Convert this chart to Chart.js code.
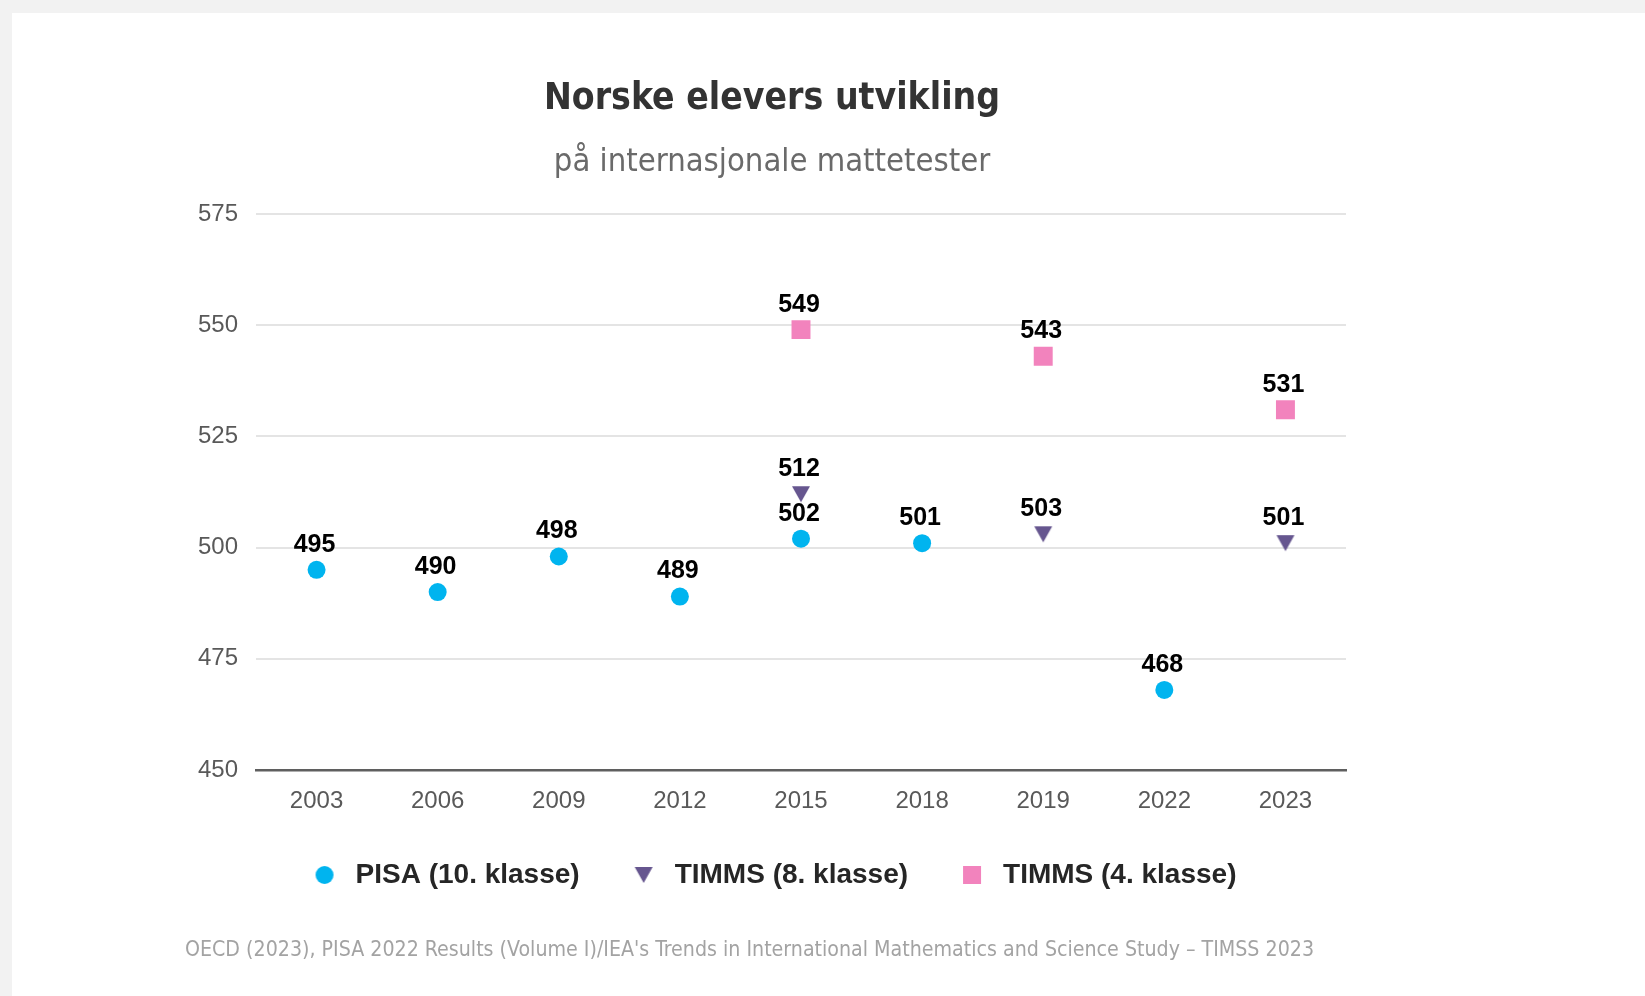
<!DOCTYPE html>
<html lang="no">
<head>
  <meta charset="UTF-8" />
  <title>Norske elevers utvikling</title>
  <script src="https://cdn.jsdelivr.net/npm/chart.js"></script>
  <style>
    body {
      margin: 0;
      background: #f2f2f2;
      overflow: hidden;
    }
    #card {
      position: absolute;
      left: 12px;
      top: 13px;
      right: 0;
      bottom: 0;
      background: #fff;
    }
    #chart {
      position: absolute;
      left: 0;
      top: 0;
    }
    #source {
      position: absolute;
      left: 173px;
      top: 924px;
      font-family: "DejaVu Sans Condensed", "DejaVu Sans", sans-serif;
      font-size: 21.2px;
      line-height: 24px;
      color: #a3a3a3;
      white-space: nowrap;
    }
  </style>
</head>
<body>
  <div id="card">
    <canvas id="chart" width="1520" height="983"></canvas>
    <div id="source">OECD (2023), PISA 2022 Results (Volume I)/IEA's Trends in International Mathematics and Science Study – TIMSS 2023</div>
  </div>

  <script>
    const years = ["2003", "2006", "2009", "2012", "2015", "2018", "2019", "2022", "2023"];
    const pisa10 = [495, 490, 498, 489, 502, 501, null, 468, null];
    const timss8 = [null, null, null, null, 512, null, 503, null, 501];
    const timss4 = [null, null, null, null, 549, null, 543, null, 531];
    const yTicks = [450, 475, 500, 525, 550, 575];

    const CYAN = "#00b4ef";
    const PURPLE = "#66568f";
    const PINK = "#f283bd";

    Chart.defaults.font.family = 'Arial, "Liberation Sans", sans-serif';

    // small marker pictures (legend + the down triangle)
    function marker(kind, color) {
      const c = document.createElement("canvas");
      c.width = 20;
      c.height = 20;
      const g = c.getContext("2d");
      g.fillStyle = color;
      if (kind === "circle") {
        g.beginPath();
        g.arc(10, 10, 9, 0, Math.PI * 2);
        g.fill();
      } else if (kind === "tri") {
        g.beginPath();
        g.moveTo(1, 2);
        g.lineTo(19, 2);
        g.lineTo(10, 18);
        g.closePath();
        g.fill();
      } else {
        g.fillRect(1, 1, 18, 18);
      }
      return c;
    }
    const legendMarks = [marker("circle", CYAN), marker("tri", PURPLE), marker("rect", PINK)];
    const triMark = marker("tri", PURPLE);

    // value labels over each point
    const valueLabels = {
      id: "valueLabels",
      afterDatasetsDraw(chart) {
        const ctx = chart.ctx;
        ctx.save();
        ctx.font = 'bold 25px Arial, "Liberation Sans", sans-serif';
        ctx.fillStyle = "#000";
        ctx.textAlign = "center";
        ctx.textBaseline = "middle";
        chart.data.datasets.forEach((ds, i) => {
          const meta = chart.getDatasetMeta(i);
          meta.data.forEach((pt, j) => {
            const v = ds.data[j];
            if (v == null) return;
            ctx.fillText(String(v), pt.x - 2, pt.y - 25);
          });
        });
        ctx.restore();
      }
    };

    const ctx = document.getElementById("chart").getContext("2d");
    new Chart(ctx, {
      type: "line",
      data: {
        labels: years,
        datasets: [
          {
            label: "PISA (10. klasse)",
            data: pisa10,
            showLine: false,
            pointStyle: "circle",
            pointRadius: 9,
            pointHoverRadius: 9,
            pointBorderWidth: 0,
            backgroundColor: CYAN,
            borderColor: CYAN
          },
          {
            label: "TIMMS (8. klasse)",
            data: timss8,
            showLine: false,
            pointStyle: triMark,
            pointRadius: 10,
            pointHoverRadius: 10,
            pointBorderWidth: 0,
            backgroundColor: PURPLE,
            borderColor: PURPLE
          },
          {
            label: "TIMMS (4. klasse)",
            data: timss4,
            showLine: false,
            pointStyle: "rect",
            pointRadius: 13.4,
            pointHoverRadius: 13.4,
            pointBorderWidth: 0,
            backgroundColor: PINK,
            borderColor: PINK
          }
        ]
      },
      options: {
        responsive: false,
        animation: false,
        layout: {
          padding: { left: 186, right: 186, top: 0, bottom: 97 }
        },
        scales: {
          x: {
            offset: true,
            grid: { display: false, drawTicks: false },
            border: { display: true, color: "#5f5f5f", width: 2.5 },
            ticks: { color: "#595959", font: { size: 24 }, padding: 17 },
            afterFit(scale) {
              scale.height = 44;
            }
          },
          y: {
            min: 450,
            max: 575,
            afterBuildTicks(scale) {
              scale.ticks = yTicks.map(v => ({ value: v }));
            },
            afterFit(scale) {
              scale.width = 58;
            },
            grid: { color: "#e4e4e4", lineWidth: 2, drawTicks: false },
            border: { display: false },
            ticks: { color: "#595959", font: { size: 24 }, padding: 18 }
          }
        },
        plugins: {
          title: {
            display: true,
            text: "Norske elevers utvikling",
            color: "#333333",
            font: { family: '"DejaVu Sans Condensed", "DejaVu Sans", sans-serif', size: 37, weight: "bold" },
            padding: { top: 64.3, bottom: 0 }
          },
          subtitle: {
            display: true,
            text: "på internasjonale mattetester",
            color: "#6a6a6a",
            font: { family: '"DejaVu Sans Condensed", "DejaVu Sans", sans-serif', size: 32.5 },
            padding: { top: 21.8, bottom: 31.5 }
          },
          legend: {
            position: "bottom",
            labels: {
              usePointStyle: true,
              pointStyleWidth: 34,
              boxHeight: 20,
              padding: 47,
              color: "#262626",
              font: { size: 28, weight: "bold" },
              generateLabels(chart) {
                const items = Chart.defaults.plugins.legend.labels.generateLabels(chart);
                items.forEach((it, i) => {
                  it.pointStyle = legendMarks[i];
                  it.rotation = 0;
                });
                return items;
              }
            }
          },
          tooltip: { enabled: false }
        }
      },
      plugins: [valueLabels]
    });
  </script>
</body>
</html>
